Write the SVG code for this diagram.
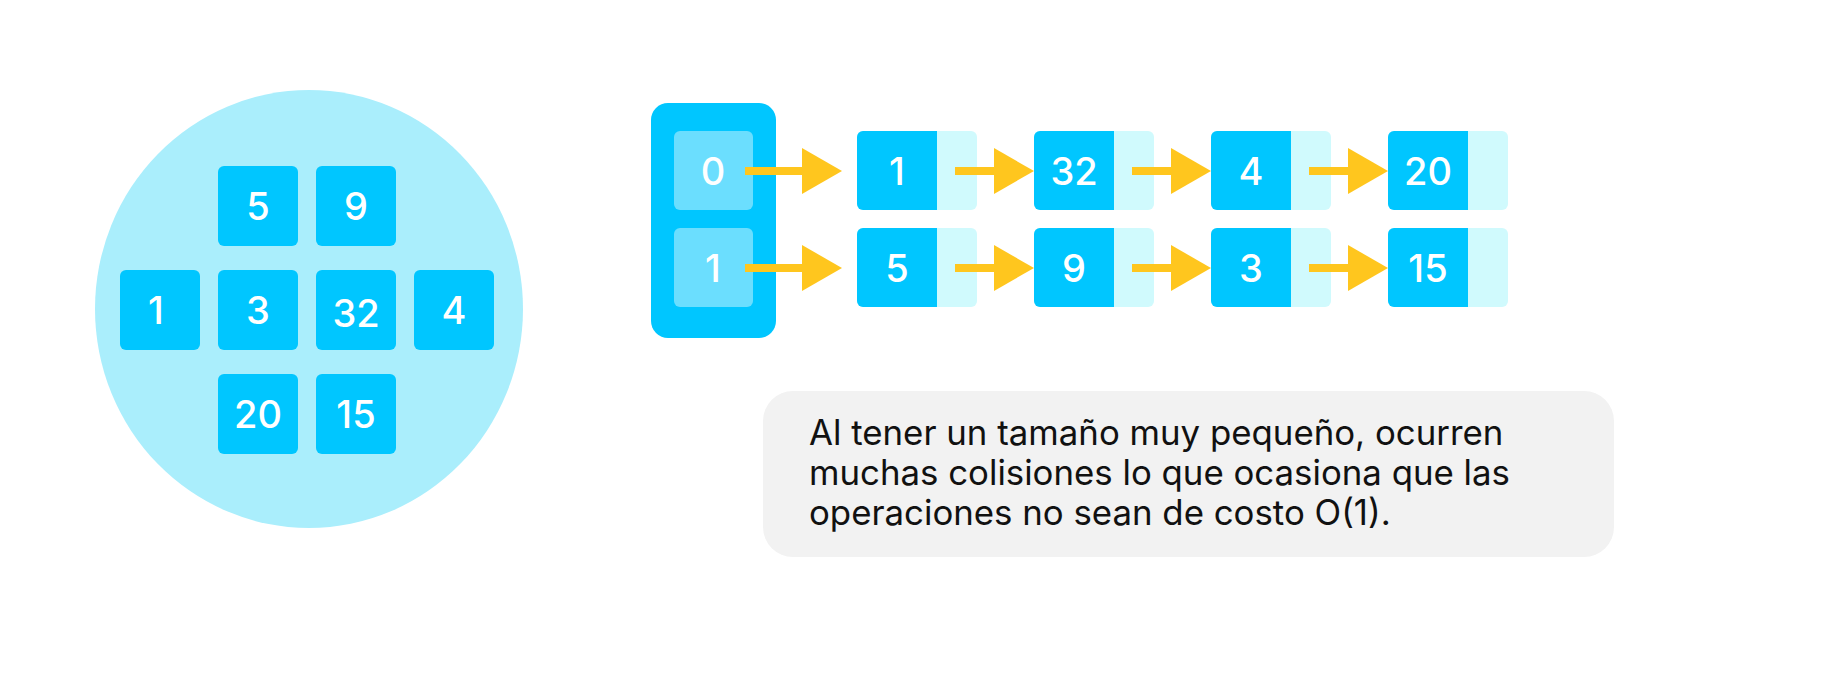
<svg xmlns="http://www.w3.org/2000/svg" width="1844" height="673" viewBox="0 0 1844 673">
<style>
.box{fill:#00C6FF}
.light{fill:#D0FAFD}
.inner{fill:#6BDEFE}
.num{font-family:Inter,"Liberation Sans",sans-serif;font-size:38px;font-weight:500;fill:#FFFFFF;text-anchor:middle}
.arrow{stroke:#FFC61E;stroke-width:8;fill:none;marker-end:url(#head)}
.note{font-family:Inter,"Liberation Sans",sans-serif;font-size:34.8px;fill:#111111}
</style>
<defs>
<marker id="head" markerUnits="userSpaceOnUse" markerWidth="40" markerHeight="46" refX="20" refY="23" orient="auto" viewBox="0 0 40 46">
<path d="M0,0 L40,23 L0,46 Z" fill="#FFC61E"/>
</marker>
</defs>
<rect width="1844" height="673" fill="#FFFFFF"/>
<g id="set">
<ellipse cx="309" cy="309" rx="214" ry="219" fill="#AAEEFC"/>
<g id="set-5"><rect class="box" x="218" y="166" width="80" height="80" rx="6"/><text class="num" x="258" y="220">5</text></g>
<g id="set-9"><rect class="box" x="316" y="166" width="80" height="80" rx="6"/><text class="num" x="356" y="220">9</text></g>
<g id="set-1"><rect class="box" x="120" y="270" width="80" height="80" rx="6"/><text class="num" x="156" y="324">1</text></g>
<g id="set-3"><rect class="box" x="218" y="270" width="80" height="80" rx="6"/><text class="num" x="258" y="324">3</text></g>
<g id="set-32"><rect class="box" x="316" y="270" width="80" height="80" rx="6"/><text class="num" x="356" y="327">32</text></g>
<g id="set-4"><rect class="box" x="414" y="270" width="80" height="80" rx="6"/><text class="num" x="454" y="324">4</text></g>
<g id="set-20"><rect class="box" x="218" y="374" width="80" height="80" rx="6"/><text class="num" x="258" y="428">20</text></g>
<g id="set-15"><rect class="box" x="316" y="374" width="80" height="80" rx="6"/><text class="num" x="356" y="428">15</text></g>
</g>
<g id="buckets">
<rect class="box" x="651" y="103" width="125" height="235" rx="17"/>
<g id="bucket-0"><rect class="inner" x="674" y="131" width="79" height="79" rx="6"/><text class="num" x="713" y="185">0</text></g>
<g id="bucket-1"><rect class="inner" x="674" y="228" width="79" height="79" rx="6"/><text class="num" x="713" y="282">1</text></g>
</g>
<g id="node-r0-1"><rect class="light" x="857" y="131" width="120" height="79" rx="6"/><path class="box" d="M863,131 H937 V210 H863 A6,6 0 0 1 857,204 V137 A6,6 0 0 1 863,131 Z"/><text class="num" x="897" y="185">1</text></g>
<g id="node-r0-32"><rect class="light" x="1034" y="131" width="120" height="79" rx="6"/><path class="box" d="M1040,131 H1114 V210 H1040 A6,6 0 0 1 1034,204 V137 A6,6 0 0 1 1040,131 Z"/><text class="num" x="1074" y="185">32</text></g>
<g id="node-r0-4"><rect class="light" x="1211" y="131" width="120" height="79" rx="6"/><path class="box" d="M1217,131 H1291 V210 H1217 A6,6 0 0 1 1211,204 V137 A6,6 0 0 1 1217,131 Z"/><text class="num" x="1251" y="185">4</text></g>
<g id="node-r0-20"><rect class="light" x="1388" y="131" width="120" height="79" rx="6"/><path class="box" d="M1394,131 H1468 V210 H1394 A6,6 0 0 1 1388,204 V137 A6,6 0 0 1 1394,131 Z"/><text class="num" x="1428" y="185">20</text></g>
<g id="node-r1-5"><rect class="light" x="857" y="228" width="120" height="79" rx="6"/><path class="box" d="M863,228 H937 V307 H863 A6,6 0 0 1 857,301 V234 A6,6 0 0 1 863,228 Z"/><text class="num" x="897" y="282">5</text></g>
<g id="node-r1-9"><rect class="light" x="1034" y="228" width="120" height="79" rx="6"/><path class="box" d="M1040,228 H1114 V307 H1040 A6,6 0 0 1 1034,301 V234 A6,6 0 0 1 1040,228 Z"/><text class="num" x="1074" y="282">9</text></g>
<g id="node-r1-3"><rect class="light" x="1211" y="228" width="120" height="79" rx="6"/><path class="box" d="M1217,228 H1291 V307 H1217 A6,6 0 0 1 1211,301 V234 A6,6 0 0 1 1217,228 Z"/><text class="num" x="1251" y="282">3</text></g>
<g id="node-r1-15"><rect class="light" x="1388" y="228" width="120" height="79" rx="6"/><path class="box" d="M1394,228 H1468 V307 H1394 A6,6 0 0 1 1388,301 V234 A6,6 0 0 1 1394,228 Z"/><text class="num" x="1428" y="282">15</text></g>
<g id="connectors">
<path class="arrow" d="M745,171 H822"/>
<path class="arrow" d="M955,171 H1014"/>
<path class="arrow" d="M1132,171 H1191"/>
<path class="arrow" d="M1309,171 H1368"/>
<path class="arrow" d="M745,268 H822"/>
<path class="arrow" d="M955,268 H1014"/>
<path class="arrow" d="M1132,268 H1191"/>
<path class="arrow" d="M1309,268 H1368"/>
</g>
<g id="note">
<rect x="763" y="391" width="851" height="166" rx="30" fill="#F2F2F2"/>
<text class="note" x="809" y="445">Al tener un tamaño muy pequeño, ocurren</text>
<text class="note" x="809" y="485">muchas colisiones lo que ocasiona que las</text>
<text class="note" x="809" y="525">operaciones no sean de costo O(1).</text>
</g>
</svg>
